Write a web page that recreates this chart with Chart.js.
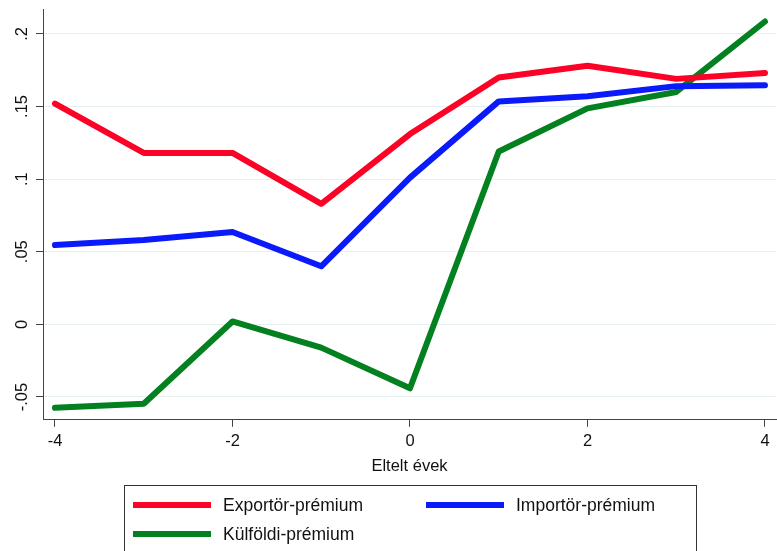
<!DOCTYPE html>
<html>
<head>
<meta charset="utf-8">
<script src="https://cdn.jsdelivr.net/npm/chart.js@4/dist/chart.umd.min.js"></script>
<style>
  html, body { margin:0; padding:0; background:#fff; }
  #wrap { width:777px; height:551px; position:relative; }
</style>
</head>
<body>
<div id="wrap"><canvas id="c"></canvas></div>
<script>
// adatok
var years    = [-4, -3, -2, -1, 0, 1, 2, 3, 4];
var exporter = [0.152, 0.118, 0.118, 0.083, 0.131, 0.170, 0.178, 0.169, 0.173];
var importer = [0.0546, 0.058, 0.0636, 0.040, 0.101, 0.1535, 0.157, 0.164, 0.1646];
var foreign  = [-0.0574, -0.0546, 0.002, -0.016, -0.044, 0.119, 0.1487, 0.160, 0.2085];

var seriesLabels = ["Exportör-prémium", "Importör-prémium", "Külföldi-prémium"];
var seriesColors = ["#fb0226", "#0a1afa", "#03801f"];

var xTicks = [-4, -2, 0, 2, 4];
var yTicks = [-0.05, 0, 0.05, 0.1, 0.15, 0.2];
var yTickLabels = ["-.05", "0", ".05", ".1", ".15", ".2"];
var xTitle = "Eltelt évek";

var FONT = "'Liberation Sans', Arial, Helvetica, sans-serif";

function pts(vals){
  var out = [];
  for (var i=0;i<years.length;i++) out.push({ x: years[i], y: vals[i] });
  return out;
}

function ds(i, vals){
  return {
    label: seriesLabels[i],
    data: pts(vals),
    borderColor: seriesColors[i],
    backgroundColor: seriesColors[i],
    borderWidth: 6,
    pointRadius: 0,
    tension: 0,
    fill: false,
    borderCapStyle: "round",
    borderJoinStyle: "round"
  };
}

// forgatott y feliratok (Stata-stílus)
var yLabelPlugin = {
  id: "yLabels",
  afterDraw: function(chart){
    var ctx = chart.ctx, y = chart.scales.y;
    ctx.save();
    ctx.fillStyle = "#111";
    ctx.font = "16.5px " + FONT;
    ctx.textAlign = "center";
    ctx.textBaseline = "alphabetic";
    for (var i=0;i<yTicks.length;i++){
      var py = y.getPixelForValue(yTicks[i]);
      ctx.save();
      ctx.translate(27, py);
      ctx.rotate(-Math.PI/2);
      ctx.fillText(yTickLabels[i], 0, 0);
      ctx.restore();
    }
    ctx.restore();
  }
};

// keretes jelmagyarázat alul
var legendPlugin = {
  id: "boxLegend",
  afterDraw: function(chart){
    var ctx = chart.ctx;
    var slots = [ { x:133, y:505 }, { x:426, y:505 }, { x:133, y:534 } ];
    ctx.save();
    ctx.strokeStyle = "#333";
    ctx.lineWidth = 1;
    ctx.strokeRect(124.5, 485.5, 572, 90);
    ctx.font = "17.5px " + FONT;
    ctx.textBaseline = "middle";
    ctx.textAlign = "left";
    var sets = chart.data.datasets;
    for (var i=0;i<sets.length;i++){
      var s = slots[i];
      ctx.strokeStyle = sets[i].borderColor;
      ctx.lineWidth = 6;
      ctx.beginPath();
      ctx.moveTo(s.x, s.y);
      ctx.lineTo(s.x + 78, s.y);
      ctx.stroke();
      ctx.fillStyle = "#111";
      ctx.fillText(sets[i].label, s.x + 90, s.y + 1);
    }
    ctx.restore();
  }
};

new Chart(document.getElementById("c"), {
  type: "line",
  data: { datasets: [ ds(0, exporter), ds(1, importer), ds(2, foreign) ] },
  plugins: [yLabelPlugin, legendPlugin],
  options: {
    responsive: true,
    maintainAspectRatio: false,
    animation: false,
    layout: { padding: { left: 36, right: 1, top: 9, bottom: 74.6 } },
    plugins: { legend: { display: false }, tooltip: { enabled: false } },
    scales: {
      x: {
        type: "linear",
        min: -4.135, max: 4.124,
        afterBuildTicks: function(s){ s.ticks = xTicks.map(function(v){ return { value: v }; }); },
        grid: { display: true, drawOnChartArea: false, drawTicks: true, tickLength: 7, tickColor: "#444" },
        border: { display: true, color: "#444", width: 1 },
        ticks: { color: "#111", padding: 5, maxRotation: 0, font: { family: FONT, size: 16.5 } },
        title: { display: true, text: xTitle, color: "#111", padding: { top: 0, bottom: 0 }, font: { family: FONT, size: 16.5 } }
      },
      y: {
        min: -0.0657, max: 0.2171,
        afterBuildTicks: function(s){ s.ticks = yTicks.map(function(v){ return { value: v }; }); },
        grid: { color: "#e6eff1", lineWidth: 1, drawTicks: true, tickLength: 7, tickColor: "#444" },
        border: { display: true, color: "#444", width: 1 },
        ticks: { display: false }
      }
    }
  }
});
</script>
</body>
</html>
